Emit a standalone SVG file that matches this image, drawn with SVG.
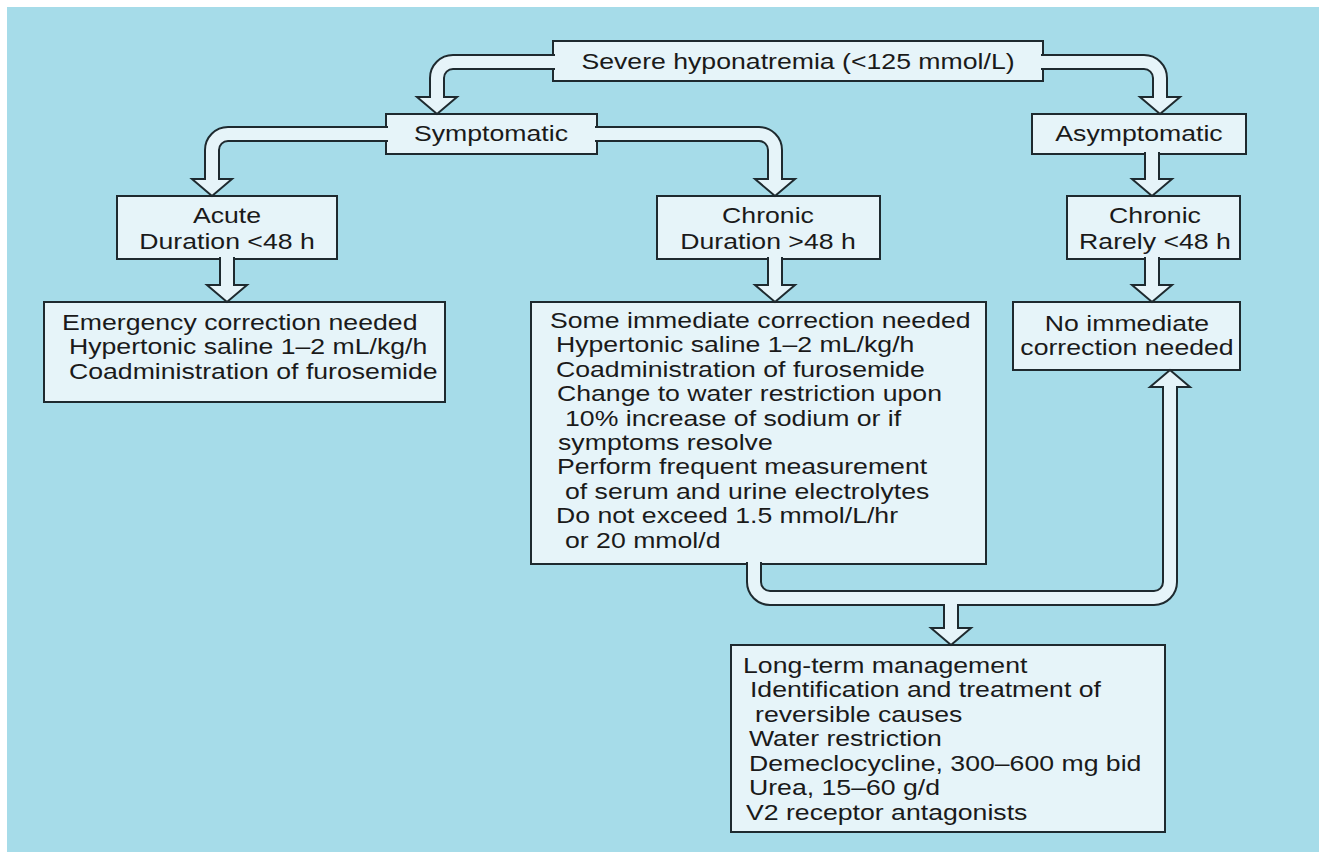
<svg xmlns="http://www.w3.org/2000/svg" width="1321" height="852" viewBox="0 0 1321 852">
<style>
.box{fill:#e6f4f9;stroke:#1e2a2f;stroke-width:2}
.arr{fill:#e6f4f9;stroke:#1e2a2f;stroke-width:2;stroke-linejoin:miter}
.t{font-family:"Liberation Sans",Arial,sans-serif;font-size:21.5px;fill:#1a1a1a}
</style>
<rect x="0" y="0" width="1321" height="852" fill="#ffffff"/>
<rect x="7" y="7" width="1312" height="845" fill="#a6dce9"/>
<g id="severe"><rect class="box" x="553" y="41" width="490" height="40"/>
<text class="t" text-anchor="middle" transform="translate(798,69) scale(1.24,1)">Severe hyponatremia (&lt;125 mmol/L)</text></g>
<g id="symptomatic"><rect class="box" x="386" y="114" width="211" height="40"/>
<text class="t" text-anchor="middle" transform="translate(491,141) scale(1.24,1)">Symptomatic</text></g>
<g id="asymptomatic"><rect class="box" x="1032" y="114" width="214" height="40"/>
<text class="t" text-anchor="middle" transform="translate(1139,141) scale(1.24,1)">Asymptomatic</text></g>
<g id="acute"><rect class="box" x="117" y="196" width="220" height="63"/>
<text class="t" text-anchor="middle" transform="translate(227,0) scale(1.24,1)"><tspan x="0" y="223">Acute</tspan><tspan x="0" y="249">Duration &lt;48 h</tspan></text></g>
<g id="chronic1"><rect class="box" x="657" y="196" width="223" height="63"/>
<text class="t" text-anchor="middle" transform="translate(768,0) scale(1.24,1)"><tspan x="0" y="223">Chronic</tspan><tspan x="0" y="249">Duration &gt;48 h</tspan></text></g>
<g id="chronic2"><rect class="box" x="1067" y="196" width="173" height="63"/>
<text class="t" text-anchor="middle" transform="translate(1155,0) scale(1.24,1)"><tspan x="0" y="223">Chronic</tspan><tspan x="0" y="249">Rarely &lt;48 h</tspan></text></g>
<g id="emergency"><rect class="box" x="44" y="302" width="401" height="100"/>
<text class="t" transform="translate(62,0) scale(1.24,1)"><tspan x="0" y="330">Emergency correction needed</tspan><tspan x="5.6" y="354">Hypertonic saline 1–2 mL/kg/h</tspan><tspan x="5.6" y="379">Coadministration of furosemide</tspan></text></g>
<g id="someimmediate"><rect class="box" x="531" y="302" width="455" height="262"/>
<text class="t" transform="translate(550,0) scale(1.24,1)"><tspan x="0" y="328">Some immediate correction needed</tspan><tspan x="4.8" y="352.4">Hypertonic saline 1–2 mL/kg/h</tspan><tspan x="4.8" y="376.8">Coadministration of furosemide</tspan><tspan x="5.6" y="401.2">Change to water restriction upon</tspan><tspan x="12.1" y="425.6">10% increase of sodium or if</tspan><tspan x="6.5" y="450">symptoms resolve</tspan><tspan x="5.6" y="474.4">Perform frequent measurement</tspan><tspan x="12.1" y="498.8">of serum and urine electrolytes</tspan><tspan x="4.8" y="523.2">Do not exceed 1.5 mmol/L/hr</tspan><tspan x="12.1" y="547.6">or 20 mmol/d</tspan></text></g>
<g id="noimmediate"><rect class="box" x="1013" y="302" width="227" height="68"/>
<text class="t" text-anchor="middle" transform="translate(1127,0) scale(1.24,1)"><tspan x="0" y="331">No immediate</tspan><tspan x="0" y="355">correction needed</tspan></text></g>
<g id="longterm"><rect class="box" x="731" y="645" width="434" height="187"/>
<text class="t" transform="translate(743,0) scale(1.24,1)"><tspan x="0" y="673">Long-term management</tspan><tspan x="5.6" y="697.5">Identification and treatment of</tspan><tspan x="9.7" y="722">reversible causes</tspan><tspan x="4.8" y="746.5">Water restriction</tspan><tspan x="4.8" y="771">Demeclocycline, 300–600 mg bid</tspan><tspan x="4.8" y="795.5">Urea, 15–60 g/d</tspan><tspan x="2.4" y="820">V2 receptor antagonists</tspan></text></g>
<g id="connectors">
<path class="arr" d="M555,55 H453 A23,23 0 0 0 430,78 V97 H417 L437,114 L457,97 H444 V78 A9,9 0 0 1 453,69 H555"/>
<path class="arr" d="M1041,55 H1144 A23,23 0 0 1 1167,78 V97 H1180 L1160,114 L1140,97 H1153 V78 A9,9 0 0 0 1144,69 H1041"/>
<path class="arr" d="M388,127 H228 A23,23 0 0 0 205,150 V179 H192 L212,196 L232,179 H219 V150 A9,9 0 0 1 228,141 H388"/>
<path class="arr" d="M595,127 H759 A23,23 0 0 1 782,150 V179 H795 L775,196 L755,179 H768 V150 A9,9 0 0 0 759,141 H595"/>
<path class="arr" d="M1145,152 V179 H1132 L1152,196 L1172,179 H1159 V152"/>
<path class="arr" d="M220,257 V285 H207 L227,302 L247,285 H234 V257"/>
<path class="arr" d="M768,257 V285 H755 L775,302 L795,285 H782 V257"/>
<path class="arr" d="M1145,257 V285 H1132 L1152,302 L1172,285 H1159 V257"/>
<path class="arr" d="M747,562 V582 A23,23 0 0 0 770,605 H944 V628 H931 L951,645 L971,628 H958 V605 H1154 A23,23 0 0 0 1177,582 V387 H1190 L1170,370 L1150,387 H1163 V582 A9,9 0 0 1 1154,591 H770 A9,9 0 0 1 761,582 V562"/>
</g>
</svg>
